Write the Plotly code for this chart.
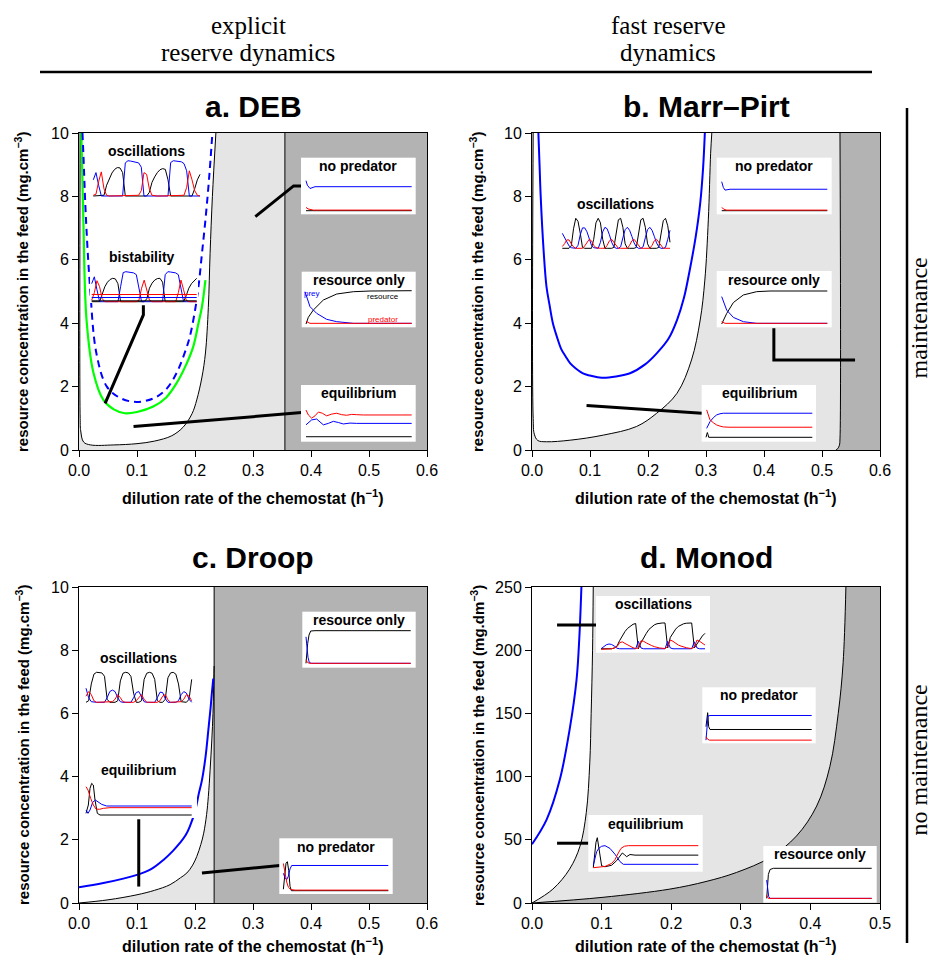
import plotly.graph_objects as go

# page geometry: the browser keeps its default 8px body margin, so the figure
# (927x949) starts at window pixel (8, 8); fixed 20px margins round the plot area.
OFF = 8
FIG_W, FIG_H = 927, 949
MARG = 20
PLOT_L, PLOT_T = OFF + MARG, OFF + MARG
PLOT_W, PLOT_H = FIG_W - 2 * MARG, FIG_H - 2 * MARG
DARK = "#b3b3b3"
LIGHT = "#e5e5e5"
BLUE = "#0000ff"
RED = "#ff0000"
GREEN = "#00ff00"
SANS = "Liberation Sans"
SERIF = "Liberation Serif"

# ======================= DATA =======================
# ---- panel a. DEB ----
A_EDGE = 0.355
A_BLACK_X = [0.002, 0.002, 0.003, 0.008, 0.02, 0.06, 0.1, 0.13, 0.16, 0.18, 0.195, 0.203, 0.212, 0.218, 0.223, 0.226, 0.23, 0.236]
A_BLACK_Y = [10, 1.0, 0.6, 0.25, 0.16, 0.16, 0.2, 0.28, 0.45, 0.73, 1.15, 1.58, 2.3, 3.06, 4.5, 6.2, 8.0, 10]
A_GREEN_X = [0.004, 0.0075, 0.013, 0.025, 0.042, 0.06, 0.079, 0.1, 0.128, 0.15, 0.168, 0.185, 0.197, 0.206, 0.212, 0.218]
A_GREEN_Y = [10, 7.26, 4.1, 2.43, 1.58, 1.28, 1.16, 1.2, 1.37, 1.65, 2.1, 2.7, 3.26, 4.0, 4.52, 5.36]
A_BLUE_X = [0.006, 0.0075, 0.012, 0.019, 0.03, 0.048, 0.07, 0.094, 0.115, 0.134, 0.152, 0.168, 0.181, 0.191, 0.2, 0.206, 0.212, 0.218, 0.224, 0.23]
A_BLUE_Y = [10, 9.36, 7.3, 5.15, 3.05, 2.0, 1.65, 1.52, 1.55, 1.68, 1.95, 2.42, 3.0, 3.57, 4.4, 5.15, 6.2, 7.26, 8.5, 10]
A_LEAD_NOPRED_X = [0.304, 0.370, 0.384]
A_LEAD_NOPRED_Y = [7.36, 8.33, 8.33]
A_LEAD_BIST_X = [0.111, 0.111, 0.045]
A_LEAD_BIST_Y = [4.57, 4.26, 1.47]
A_LEAD_EQ_X = [0.094, 0.384]
A_LEAD_EQ_Y = [0.74, 1.18]

# ---- panel b. Marr-Pirt ----
B_BLACK_X = [0.002, 0.002, 0.004, 0.01, 0.025, 0.066, 0.123, 0.18, 0.215, 0.25, 0.275, 0.29, 0.298, 0.304, 0.308, 0.31]
B_BLACK_Y = [10, 1.0, 0.5, 0.3, 0.26, 0.31, 0.47, 0.74, 1.16, 1.79, 2.84, 4.1, 5.36, 7.26, 9.36, 10]
B_RIGHT_X = [0.531, 0.531, 0.530, 0.527, 0.524]
B_RIGHT_Y = [10, 0.35, 0.15, 0.04, 0]
B_BLUE_X = [0.011, 0.013, 0.015, 0.02, 0.025, 0.03, 0.036, 0.043, 0.05, 0.058, 0.066, 0.075, 0.09, 0.1, 0.12, 0.145, 0.169, 0.195, 0.215, 0.235, 0.25, 0.262, 0.272, 0.282, 0.29, 0.295, 0.298]
B_BLUE_Y = [10, 9.0, 8.0, 6.3, 5.15, 4.6, 4.0, 3.57, 3.2, 2.95, 2.73, 2.58, 2.4, 2.35, 2.28, 2.32, 2.42, 2.7, 3.05, 3.5, 4.1, 4.8, 5.68, 6.7, 7.78, 8.9, 10]
B_LEAD_EQ_X = [0.094, 0.293]
B_LEAD_EQ_Y = [1.4, 1.16]
B_LEAD_RES_X = [0.417, 0.417, 0.557]
B_LEAD_RES_Y = [3.84, 2.84, 2.84]

# ---- panel c. Droop ----
C_EDGE = 0.233
C_BLACK_X = [0, 0.05, 0.1, 0.13, 0.157, 0.175, 0.186, 0.196, 0.203, 0.21, 0.215, 0.22, 0.223, 0.226, 0.229, 0.231, 0.232, 0.233]
C_BLACK_Y = [0, 0.1, 0.26, 0.4, 0.58, 0.8, 0.95, 1.2, 1.47, 1.85, 2.21, 2.8, 3.37, 4.2, 5.16, 6.0, 6.74, 7.5]
C_BLUE_X = [0, 0.042, 0.1, 0.125, 0.146, 0.162, 0.174, 0.184, 0.191, 0.2, 0.207, 0.212, 0.218, 0.223, 0.227, 0.229, 0.2315]
C_BLUE_Y = [0.5, 0.63, 0.89, 1.08, 1.37, 1.65, 1.9, 2.15, 2.42, 2.9, 3.5, 3.89, 4.6, 5.47, 6.2, 6.63, 7.1]
C_LEAD_EQ_X = [0.103, 0.103]
C_LEAD_EQ_Y = [2.65, 0.52]
C_LEAD_NOPRED_X = [0.212, 0.335, 0.346]
C_LEAD_NOPRED_Y = [0.95, 1.19, 1.19]

# ---- panel d. Monod ----
D_UPPER_X = [0, 0.03, 0.054, 0.069, 0.078, 0.083, 0.085, 0.087, 0.088]
D_UPPER_Y = [0, 11, 26.8, 45, 71.5, 110.9, 150, 200, 250]
D_LOWER_X = [0, 0.102, 0.198, 0.25, 0.294, 0.342, 0.38, 0.409, 0.428, 0.44, 0.447, 0.451]
D_LOWER_Y = [0, 4.5, 11, 17, 24.2, 36, 53, 76.7, 108, 150, 190, 250]
D_BLUE_X = [0, 0.021, 0.04, 0.054, 0.064, 0.068, 0.071]
D_BLUE_Y = [46.5, 66, 97.7, 137, 176.5, 210, 250]
D_LEAD_OSC_X = [0.036, 0.093]
D_LEAD_OSC_Y = [220, 220]
D_LEAD_EQ_X = [0.036, 0.081]
D_LEAD_EQ_Y = [47.3, 47.3]

# ---- ticks ----
X_TICKS_06 = [0, 0.1, 0.2, 0.3, 0.4, 0.5, 0.6]
X_TEXT_06 = ["0.0", "0.1", "0.2", "0.3", "0.4", "0.5", "0.6"]
X_TICKS_05 = [0, 0.1, 0.2, 0.3, 0.4, 0.5]
X_TEXT_05 = ["0.0", "0.1", "0.2", "0.3", "0.4", "0.5"]
Y_TICKS_10 = [0, 2, 4, 6, 8, 10]
Y_TICKS_250 = [0, 50, 100, 150, 200, 250]

# ---- inset time series (normalised values, arbitrary time units) ----
A_OSC_BLUE = [0.45, 0.65, 0.3, 0, 0, 0, 0, 0, 0, 0, 0, 0, 0.92, 0.98, 0.97, 0.96, 0.95, 0.92, 0.8, 0, 0, 0, 0, 0, 0, 0, 0, 0, 0, 0.93, 0.98, 0.97, 0.96, 0.95, 0.9, 0.7, 0, 0, 0, 0, 0]
A_OSC_RED = [0.02, 0.05, 0.4, 0.67, 0.2, 0.02, 0, 0, 0, 0, 0, 0, 0, 0, 0, 0, 0, 0.02, 0.15, 0.65, 0.6, 0.2, 0.02, 0, 0, 0, 0, 0, 0, 0, 0, 0, 0, 0, 0.02, 0.24, 0.7, 0.45, 0.15, 0.02, 0]
A_OSC_BLACK = [0, 0, 0, 0, 0.02, 0.3, 0.5, 0.64, 0.74, 0.79, 0.78, 0.65, 0, 0, 0, 0, 0, 0, 0, 0, 0, 0.1, 0.38, 0.53, 0.65, 0.73, 0.76, 0.74, 0.45, 0, 0, 0, 0, 0, 0, 0, 0, 0, 0.2, 0.45, 0.6]

A_BIST_BLUE = [0.6, 0.83, 0.4, 0, 0, 0, 0, 0, 0, 0, 0, 0.5, 0.97, 1.0, 0.99, 0.98, 0.96, 0.9, 0.4, 0, 0, 0, 0, 0, 0, 0, 0, 0, 0.9, 1.0, 0.99, 0.98, 0.96, 0.9, 0.5, 0, 0, 0, 0, 0, 0]
A_BIST_RED = [0.05, 0.3, 0.7, 0.5, 0.1, 0, 0, 0, 0, 0, 0, 0, 0, 0, 0, 0, 0, 0, 0.05, 0.45, 0.72, 0.4, 0.05, 0, 0, 0, 0, 0, 0, 0, 0, 0, 0, 0.3, 0.72, 0.4, 0.05, 0, 0, 0, 0]
A_BIST_BLACK = [0, 0, 0, 0, 0.25, 0.5, 0.65, 0.74, 0.78, 0.76, 0.6, 0, 0, 0, 0, 0, 0, 0, 0, 0, 0, 0.1, 0.45, 0.62, 0.72, 0.77, 0.78, 0.65, 0, 0, 0, 0, 0, 0, 0, 0, 0.2, 0.45, 0.6, 0.7, 0.78]
A_BIST_LEVEL_RED = 0.24
A_BIST_LEVEL_BLUE = 0.14
A_BIST_LEVEL_BLACK = 0.03

A_NOPRED_BLUE_T = [0, 4, 12, 27, 317]
A_NOPRED_BLUE_V = [1.0, 0.85, 0.74, 0.8, 0.8]
A_NOPRED_RED_T = [0, 6, 22, 317]
A_NOPRED_RED_V = [0.11, 0.06, 0.02, 0.02]
A_NOPRED_BLACK_T = [0, 317]
A_NOPRED_BLACK_V = [0, 0]

A_RES_BLACK_T = [3, 10, 25, 55, 95, 145, 195, 320]
A_RES_BLACK_V = [0, 0.2, 0.42, 0.72, 0.9, 0.97, 0.99, 1.0]
A_RES_BLUE_T = [0, 5, 15, 35, 65, 95, 145, 320]
A_RES_BLUE_V = [0.97, 0.8, 0.52, 0.32, 0.14, 0.07, 0.02, 0.02]
A_RES_RED_T = [3, 15, 320]
A_RES_RED_V = [0.08, 0.02, 0.02]

A_EQ_RED_T = [0, 7, 17, 27, 37, 49, 62, 77, 92, 107, 122, 137, 152, 172, 317]
A_EQ_RED_V = [0.94, 0.77, 0.66, 0.74, 0.87, 0.83, 0.74, 0.80, 0.83, 0.78, 0.76, 0.79, 0.78, 0.77, 0.77]
A_EQ_BLUE_T = [0, 7, 17, 32, 42, 52, 67, 82, 97, 112, 132, 152, 317]
A_EQ_BLUE_V = [0.43, 0.51, 0.6, 0.63, 0.54, 0.43, 0.48, 0.55, 0.51, 0.46, 0.49, 0.48, 0.48]
A_EQ_BLACK_T = [0, 317]
A_EQ_BLACK_V = [0.02, 0.02]

B_OSC_BLACK = [0, 0, 0, 0, 0.08, 0.65, 1.0, 0.9, 0.5, 0.03, 0, 0, 0, 0, 0.3, 0.85, 1.0, 0.85, 0.3, 0, 0, 0, 0, 0.03, 0.5, 0.95, 1.0, 0.7, 0.15, 0, 0, 0, 0, 0.03, 0.5, 0.95, 1.0, 0.7, 0.15, 0, 0, 0, 0, 0.03, 0.45, 0.92, 1.0, 0.75, 0.2]
B_OSC_BLUE = [0.5, 0.35, 0.2, 0.08, 0.02, 0, 0, 0.1, 0.45, 0.68, 0.68, 0.55, 0.3, 0.1, 0.02, 0, 0, 0.2, 0.55, 0.7, 0.65, 0.45, 0.2, 0.05, 0, 0, 0.05, 0.35, 0.62, 0.7, 0.6, 0.4, 0.18, 0.05, 0, 0, 0.05, 0.35, 0.62, 0.7, 0.6, 0.4, 0.18, 0.05, 0, 0, 0.03, 0.3, 0.6]
B_OSC_RED = [0.06, 0.15, 0.28, 0.28, 0.15, 0.05, 0, 0, 0, 0, 0.08, 0.2, 0.3, 0.25, 0.1, 0.02, 0, 0, 0, 0, 0.1, 0.25, 0.3, 0.2, 0.07, 0, 0, 0, 0, 0, 0.1, 0.25, 0.3, 0.2, 0.07, 0, 0, 0, 0, 0, 0.1, 0.25, 0.3, 0.2, 0.07, 0, 0, 0, 0]

B_NOPRED_BLUE_T = [0, 5, 10, 25, 317]
B_NOPRED_BLUE_V = [1.0, 0.8, 0.71, 0.74, 0.74]
B_NOPRED_RED_T = [0, 7, 15, 317]
B_NOPRED_RED_V = [0.11, 0.05, 0.02, 0.02]
B_NOPRED_BLACK_T = [0, 317]
B_NOPRED_BLACK_V = [0, 0]

B_RES_BLACK_T = [0, 15, 35, 65, 105, 145, 317]
B_RES_BLACK_V = [0, 0.32, 0.65, 0.88, 0.98, 1.0, 1.0]
B_RES_BLUE_T = [0, 15, 35, 65, 105, 317]
B_RES_BLUE_V = [0.83, 0.42, 0.2, 0.07, 0.02, 0.02]
B_RES_RED_T = [0, 10, 317]
B_RES_RED_V = [0.07, 0.02, 0.02]

B_EQ_BLUE_T = [2, 7, 12, 22, 32, 42, 52, 319]
B_EQ_BLUE_V = [0.32, 0.45, 0.56, 0.7, 0.8, 0.84, 0.86, 0.86]
B_EQ_RED_T = [2, 7, 12, 22, 32, 42, 52, 72, 319]
B_EQ_RED_V = [0.98, 0.8, 0.62, 0.52, 0.44, 0.4, 0.37, 0.36, 0.36]
B_EQ_BLACK_T = [0, 2, 4, 6, 8, 319]
B_EQ_BLACK_V = [0, 0.1, 0.17, 0.1, 0, 0]

C_OSC_BLACK = [0, 0.05, 0.6, 0.92, 0.98, 0.98, 0.96, 0.85, 0.1, 0, 0, 0, 0.05, 0.7, 0.95, 0.98, 0.96, 0.85, 0.3, 0, 0, 0.05, 0.75, 0.95, 0.98, 0.95, 0.75, 0.05, 0, 0, 0.1, 0.8, 0.96, 0.98, 0.92, 0.6, 0.02, 0, 0, 0.1, 0.75]
C_OSC_BLUE = [0.46, 0.15, 0.02, 0, 0, 0, 0, 0, 0.15, 0.35, 0.4, 0.35, 0.15, 0.02, 0, 0, 0, 0, 0.15, 0.32, 0.35, 0.2, 0.02, 0, 0, 0, 0, 0.15, 0.33, 0.32, 0.12, 0, 0, 0, 0, 0.05, 0.25, 0.35, 0.3, 0.1, 0]
C_OSC_RED = [0.2, 0.35, 0.25, 0.05, 0, 0, 0, 0, 0, 0, 0.02, 0.1, 0.25, 0.15, 0.02, 0, 0, 0, 0, 0.05, 0.15, 0.25, 0.1, 0, 0, 0, 0, 0, 0.05, 0.2, 0.25, 0.08, 0, 0, 0, 0, 0.02, 0.1, 0.25, 0.2, 0.05]

C_EQ_BLACK_T = [0, 7, 12, 17, 22, 27, 34, 42, 317]
C_EQ_BLACK_V = [0.05, 0.3, 0.8, 0.95, 0.9, 0.45, 0.05, 0, 0]
C_EQ_RED_T = [0, 6, 14, 22, 30, 40, 52, 72, 317]
C_EQ_RED_V = [0.85, 0.75, 0.5, 0.3, 0.18, 0.17, 0.2, 0.22, 0.22]
C_EQ_BLUE_T = [0, 6, 12, 20, 28, 37, 47, 62, 77, 317]
C_EQ_BLUE_V = [0.15, 0.05, 0.15, 0.38, 0.45, 0.4, 0.32, 0.27, 0.27, 0.27]

C_RES_BLACK_T = [0, 2, 5, 9, 14, 27, 314]
C_RES_BLACK_V = [0.02, 0.3, 0.6, 0.85, 0.97, 0.98, 0.98]
C_RES_BLUE_T = [0, 3, 6, 10, 17, 314]
C_RES_BLUE_V = [0.8, 0.5, 0.2, 0.04, 0.02, 0.02]
C_RES_RED_T = [0, 5, 12, 314]
C_RES_RED_V = [0.12, 0.04, 0.02, 0.02]

C_NOPRED_BLACK_T = [2, 6, 10, 14, 18, 22, 26, 317]
C_NOPRED_BLACK_V = [0.05, 0.55, 0.95, 1.0, 0.7, 0.15, 0, 0]
C_NOPRED_BLUE_T = [2, 7, 12, 17, 22, 27, 37, 317]
C_NOPRED_BLUE_V = [0.6, 0.45, 0.38, 0.5, 0.75, 0.87, 0.87, 0.87]
C_NOPRED_RED_T = [2, 7, 12, 17, 24, 37, 317]
C_NOPRED_RED_V = [0.94, 0.6, 0.3, 0.12, 0.04, 0.02, 0.02]

D_OSC_BLACK = [0.02, 0.02, 0.02, 0.02, 0.02, 0.05, 0.12, 0.33, 0.52, 0.67, 0.79, 0.88, 0.94, 0.97, 0.02, 0.25, 0.45, 0.6, 0.75, 0.85, 0.92, 0.96, 0.98, 0.99, 0.99, 0.05, 0.45, 0.62, 0.76, 0.86, 0.92, 0.96, 0.98, 0.99, 0.99, 0.05, 0.2, 0.38, 0.5, 0.6]
D_OSC_BLUE = [0.02, 0.1, 0.17, 0.2, 0.18, 0.12, 0.04, 0.02, 0.02, 0.02, 0.02, 0.02, 0.02, 0.02, 0.3, 0.05, 0.02, 0.02, 0.02, 0.02, 0.02, 0.02, 0.02, 0.02, 0.02, 0.3, 0.05, 0.02, 0.02, 0.02, 0.02, 0.02, 0.02, 0.02, 0.02, 0.28, 0.05, 0.02, 0.02, 0.02]
D_OSC_RED = [0, 0, 0, 0, 0.02, 0.05, 0.1, 0.25, 0.28, 0.22, 0.16, 0.1, 0.06, 0.03, 0.05, 0.32, 0.3, 0.24, 0.18, 0.14, 0.1, 0.07, 0.05, 0.04, 0.03, 0.1, 0.35, 0.3, 0.22, 0.16, 0.12, 0.08, 0.06, 0.04, 0.03, 0.08, 0.35, 0.3, 0.22, 0.16]

D_NOPRED_BLUE_T = [0, 3, 6, 12, 317]
D_NOPRED_BLUE_V = [0.02, 0.6, 0.88, 0.9, 0.9]
D_NOPRED_BLACK_T = [0, 3, 5, 8, 12, 317]
D_NOPRED_BLACK_V = [0.5, 0.95, 1.0, 0.5, 0.4, 0.4]
D_NOPRED_RED_T = [0, 4, 10, 317]
D_NOPRED_RED_V = [0.14, 0.06, 0.02, 0.02]

D_EQ_BLACK_T = [0, 4, 8, 12, 16, 20, 25, 35, 55, 70, 80, 87, 93, 100, 110, 125, 315]
D_EQ_BLACK_V = [0.02, 0.4, 0.85, 1.0, 0.7, 0.3, 0.08, 0.05, 0.1, 0.25, 0.4, 0.5, 0.45, 0.38, 0.45, 0.43, 0.43]
D_EQ_BLUE_T = [0, 5, 10, 17, 25, 35, 50, 65, 80, 90, 105, 315]
D_EQ_BLUE_V = [0.1, 0.35, 0.54, 0.66, 0.72, 0.74, 0.65, 0.46, 0.22, 0.13, 0.13, 0.13]
D_EQ_RED_T = [0, 15, 35, 55, 65, 75, 83, 93, 105, 315]
D_EQ_RED_V = [0.02, 0.03, 0.06, 0.16, 0.28, 0.5, 0.65, 0.72, 0.74, 0.74]

D_RES_BLACK_T = [0, 2, 5, 10, 20, 315]
D_RES_BLACK_V = [0.02, 0.5, 0.8, 0.96, 1.0, 1.0]
D_RES_BLUE_T = [0, 2, 6, 10, 315]
D_RES_BLUE_V = [0.62, 0.4, 0.08, 0.02, 0.02]
D_RES_RED_T = [0, 5, 315]
D_RES_RED_V = [0.12, 0.02, 0.02]

# ======================= FIGURE =======================
fig = go.Figure()
layout = {}
annotations = []
shapes = []


def fx(px):
    return (px - PLOT_L) / PLOT_W


def fy(py):
    return 1 - (py - PLOT_T) / PLOT_H


def ax_names(i):
    return ("x" if i == 1 else f"x{i}", "y" if i == 1 else f"y{i}",
            "xaxis" if i == 1 else f"xaxis{i}", "yaxis" if i == 1 else f"yaxis{i}")


def line(i, x, y, color="black", width=1.0, dash=None, fill=None, fillcolor=None, shape="linear"):
    xa, ya, _, _ = ax_names(i)
    ln = dict(color=color, width=width, dash=dash, shape=shape) if width > 0 else dict(width=0, color=color, shape=shape)
    fig.add_trace(go.Scatter(
        x=x, y=y, xaxis=xa, yaxis=ya, mode="lines", line=ln,
        fill=fill, fillcolor=fillcolor, hoverinfo="skip", showlegend=False))


def text(px, py, s, size, family=SANS, color="black", angle=0, xanchor="center"):
    annotations.append(dict(x=fx(px), y=fy(py), xref="paper", yref="paper",
                            text=s, showarrow=False, textangle=angle, xanchor=xanchor,
                            yanchor="middle", font=dict(family=family, size=size, color=color)))


# main panels: (index, rect in window px (l,t,r,b), xrange, yrange, xticks, xtext, yticks)
PANELS = [
    (1, (79, 133, 427, 450), [0, 0.6], [0, 10], X_TICKS_06, X_TEXT_06, Y_TICKS_10),
    (2, (532, 133, 880, 450), [0, 0.6], [0, 10], X_TICKS_06, X_TEXT_06, Y_TICKS_10),
    (3, (79, 587, 427, 903), [0, 0.6], [0, 10], X_TICKS_06, X_TEXT_06, Y_TICKS_10),
    (4, (532, 587, 880, 903), [0, 0.5], [0, 250], X_TICKS_05, X_TEXT_05, Y_TICKS_250),
]
for i, (l, t, r, b), xr, yr, xt, xtt, yt in PANELS:
    xa, ya, xk, yk = ax_names(i)
    common = dict(showgrid=False, zeroline=False, showline=True, mirror=True,
                  linecolor="black", linewidth=1, ticks="outside", ticklen=6,
                  tickwidth=1, tickcolor="black", fixedrange=True, automargin=False,
                  tickfont=dict(family=SANS, size=16, color="black"))
    layout[xk] = dict(domain=[fx(l), fx(r)], range=xr, anchor=ya,
                      tickvals=xt, ticktext=xtt, **common)
    layout[yk] = dict(domain=[fy(b), fy(t)], range=yr, anchor=xa,
                      tickvals=yt, ticktext=[str(v) for v in yt], **common)

# ---- panel a ----
line(1, [A_EDGE, 0.6, 0.6, A_EDGE], [0, 0, 10, 10], width=0, fill="toself", fillcolor=DARK)
line(1, [0, A_EDGE, A_EDGE, 0], [0, 0, 10, 10], width=0, fill="toself", fillcolor=LIGHT)
line(1, A_BLACK_X, A_BLACK_Y, width=0, fill="toself", fillcolor="white", shape="spline")
line(1, A_BLACK_X, A_BLACK_Y, "black", 1, shape="spline")
line(1, [A_EDGE, A_EDGE], [0, 10], "black", 1)
line(1, A_GREEN_X, A_GREEN_Y, GREEN, 2.2, shape="spline")
line(1, A_BLUE_X, A_BLUE_Y, BLUE, 2, dash="7px,5px", shape="spline")
line(1, A_LEAD_NOPRED_X, A_LEAD_NOPRED_Y, "black", 3)
line(1, A_LEAD_BIST_X, A_LEAD_BIST_Y, "black", 3)
line(1, A_LEAD_EQ_X, A_LEAD_EQ_Y, "black", 3)

# ---- panel b ----
line(2, [0, 0.6, 0.6, 0], [0, 0, 10, 10], width=0, fill="toself", fillcolor=DARK)
line(2, B_RIGHT_X, B_RIGHT_Y, width=0, fill="tozerox", fillcolor=LIGHT, shape="spline")
line(2, B_BLACK_X, B_BLACK_Y, width=0, fill="toself", fillcolor="white", shape="spline")
line(2, B_BLACK_X, B_BLACK_Y, "black", 1, shape="spline")
line(2, B_RIGHT_X, B_RIGHT_Y, "black", 1, shape="spline")
line(2, B_BLUE_X, B_BLUE_Y, BLUE, 2, shape="spline")
line(2, B_LEAD_EQ_X, B_LEAD_EQ_Y, "black", 3)
line(2, B_LEAD_RES_X, B_LEAD_RES_Y, "black", 3)

# ---- panel c ----
line(3, [C_EDGE, 0.6, 0.6, C_EDGE], [0, 0, 10, 10], width=0, fill="toself", fillcolor=DARK)
line(3, C_BLACK_X, C_BLACK_Y, width=0, fill="tozeroy", fillcolor=LIGHT, shape="spline")
line(3, C_BLACK_X, C_BLACK_Y, "black", 1, shape="spline")
line(3, [C_EDGE, C_EDGE], [0, 10], "black", 1)
line(3, C_BLUE_X, C_BLUE_Y, BLUE, 2, shape="spline")
line(3, C_LEAD_EQ_X, C_LEAD_EQ_Y, "black", 3)
line(3, C_LEAD_NOPRED_X, C_LEAD_NOPRED_Y, "black", 3)

# ---- panel d ----
line(4, [0, 0.5, 0.5, 0], [0, 0, 250, 250], width=0, fill="toself", fillcolor=DARK)
line(4, D_LOWER_X, D_LOWER_Y, width=0, fill="tozerox", fillcolor=LIGHT, shape="spline")
line(4, D_UPPER_X, D_UPPER_Y, width=0, fill="tozerox", fillcolor="white", shape="spline")
line(4, D_UPPER_X, D_UPPER_Y, "black", 1, shape="spline")
line(4, D_LOWER_X, D_LOWER_Y, "black", 1, shape="spline")
line(4, D_BLUE_X, D_BLUE_Y, BLUE, 2, shape="spline")
line(4, D_LEAD_OSC_X, D_LEAD_OSC_Y, "black", 3)
line(4, D_LEAD_EQ_X, D_LEAD_EQ_Y, "black", 3)


def idx(v):
    return list(range(len(v)))


# ---- insets: (box px l,t,r,b), (series rect px l,t,r,b), tmax, title, title centre px, series
INSETS = [
    ((90, 158, 203, 199), (93.3, 160, 200, 196), 40, "oscillations", (146.7, 151),
     [(idx(A_OSC_BLACK), A_OSC_BLACK, "black"), (idx(A_OSC_BLUE), A_OSC_BLUE, BLUE), (idx(A_OSC_RED), A_OSC_RED, RED)]),
    ((90, 268, 198, 303), (91.7, 271.7, 196.7, 301.7), 40, "bistability", (141.7, 256.7),
     [(idx(A_BIST_BLACK), A_BIST_BLACK, "black"), (idx(A_BIST_BLUE), A_BIST_BLUE, BLUE), (idx(A_BIST_RED), A_BIST_RED, RED),
      ([0, 40], [A_BIST_LEVEL_RED] * 2, RED), ([0, 40], [A_BIST_LEVEL_BLUE] * 2, BLUE), ([0, 40], [A_BIST_LEVEL_BLACK] * 2, "black")]),
    ((301, 157.7, 415.7, 214.3), (306, 180.7, 411.7, 210.7), 317, "no predator", (358, 166),
     [(A_NOPRED_BLACK_T, A_NOPRED_BLACK_V, "black"), (A_NOPRED_BLUE_T, A_NOPRED_BLUE_V, BLUE), (A_NOPRED_RED_T, A_NOPRED_RED_V, RED)]),
    ((301.7, 271.7, 415.7, 327.3), (305, 290.7, 411.7, 324), 320, "resource only", (358.7, 280),
     [(A_RES_BLACK_T, A_RES_BLACK_V, "black"), (A_RES_BLUE_T, A_RES_BLUE_V, BLUE), (A_RES_RED_T, A_RES_RED_V, RED)]),
    ((301, 385, 415.7, 441.7), (306, 408.3, 411.7, 437.3), 317, "equilibrium", (358, 393.3),
     [(A_EQ_BLACK_T, A_EQ_BLACK_V, "black"), (A_EQ_BLUE_T, A_EQ_BLUE_V, BLUE), (A_EQ_RED_T, A_EQ_RED_V, RED)]),
    ((560, 216, 672, 251), (562.3, 218.3, 670, 248.3), 48, "oscillations", (615, 204.3),
     [(idx(B_OSC_BLACK), B_OSC_BLACK, "black"), (idx(B_OSC_BLUE), B_OSC_BLUE, BLUE), (idx(B_OSC_RED), B_OSC_RED, RED)]),
    ((716.7, 157.7, 831.7, 214.3), (721.7, 181.7, 827.3, 210.7), 317, "no predator", (774, 166),
     [(B_NOPRED_BLACK_T, B_NOPRED_BLACK_V, "black"), (B_NOPRED_BLUE_T, B_NOPRED_BLUE_V, BLUE), (B_NOPRED_RED_T, B_NOPRED_RED_V, RED)]),
    ((716.7, 271, 831.7, 327.3), (721.7, 291, 827.3, 324), 317, "resource only", (774, 280),
     [(B_RES_BLACK_T, B_RES_BLACK_V, "black"), (B_RES_BLUE_T, B_RES_BLUE_V, BLUE), (B_RES_RED_T, B_RES_RED_V, RED)]),
    ((701.7, 385, 816, 441.7), (706, 409.3, 812.3, 437.3), 319, "equilibrium", (759, 393.3),
     [(B_EQ_BLACK_T, B_EQ_BLACK_V, "black"), (B_EQ_BLUE_T, B_EQ_BLUE_V, BLUE), (B_EQ_RED_T, B_EQ_RED_V, RED)]),
    ((83, 647, 197, 706), (86, 671.7, 191.7, 702.3), 40, "oscillations", (138.3, 658.3),
     [(idx(C_OSC_BLACK), C_OSC_BLACK, "black"), (idx(C_OSC_BLUE), C_OSC_BLUE, BLUE), (idx(C_OSC_RED), C_OSC_RED, RED)]),
    ((83, 762, 197, 818), (86, 781.7, 191.7, 815), 317, "equilibrium", (138.3, 770),
     [(C_EQ_BLACK_T, C_EQ_BLACK_V, "black"), (C_EQ_BLUE_T, C_EQ_BLUE_V, BLUE), (C_EQ_RED_T, C_EQ_RED_V, RED)]),
    ((302.3, 611.7, 415.7, 667.7), (306, 630, 410.7, 664), 314, "resource only", (359, 620),
     [(C_RES_BLACK_T, C_RES_BLACK_V, "black"), (C_RES_BLUE_T, C_RES_BLUE_V, BLUE), (C_RES_RED_T, C_RES_RED_V, RED)]),
    ((279.3, 838.3, 392.7, 894), (282.7, 861.7, 388.3, 890.7), 317, "no predator", (336, 846.7),
     [(C_NOPRED_BLACK_T, C_NOPRED_BLACK_V, "black"), (C_NOPRED_BLUE_T, C_NOPRED_BLUE_V, BLUE), (C_NOPRED_RED_T, C_NOPRED_RED_V, RED)]),
    ((596, 596, 710, 652.7), (601, 622.7, 705, 649.3), 39, "oscillations", (653, 604.3),
     [(idx(D_OSC_BLACK), D_OSC_BLACK, "black"), (idx(D_OSC_BLUE), D_OSC_BLUE, BLUE), (idx(D_OSC_RED), D_OSC_RED, RED)]),
    ((702.3, 687.3, 815.7, 743.3), (706, 712.7, 811.7, 740.7), 317, "no predator", (759, 695),
     [(D_NOPRED_BLACK_T, D_NOPRED_BLACK_V, "black"), (D_NOPRED_BLUE_T, D_NOPRED_BLUE_V, BLUE), (D_NOPRED_RED_T, D_NOPRED_RED_V, RED)]),
    ((588.3, 815, 702.7, 871.7), (593.3, 837.7, 698.3, 868.3), 315, "equilibrium", (645.5, 824),
     [(D_EQ_BLACK_T, D_EQ_BLACK_V, "black"), (D_EQ_BLUE_T, D_EQ_BLUE_V, BLUE), (D_EQ_RED_T, D_EQ_RED_V, RED)]),
    ((763.3, 846, 876.7, 902.7), (766.7, 868.3, 871.7, 899), 315, "resource only", (820, 854),
     [(D_RES_BLACK_T, D_RES_BLACK_V, "black"), (D_RES_BLUE_T, D_RES_BLUE_V, BLUE), (D_RES_RED_T, D_RES_RED_V, RED)]),
]

for k, (box, ts, tmax, title, tpos, series) in enumerate(INSETS):
    i = 5 + k
    xa, ya, xk, yk = ax_names(i)
    bx0, by0, bx1, by1 = box
    tx0, ty0, tx1, ty1 = ts
    sx = tmax / (tx1 - tx0)
    sy = 1.0 / (ty1 - ty0)
    layout[xk] = dict(domain=[fx(bx0), fx(bx1)], range=[(bx0 - tx0) * sx, (bx1 - tx0) * sx],
                      anchor=ya, visible=False, fixedrange=True, automargin=False)
    layout[yk] = dict(domain=[fy(by1), fy(by0)], range=[(ty1 - by1) * sy, (ty1 - by0) * sy],
                      anchor=xa, visible=False, fixedrange=True, automargin=False)
    for tt, vv, col in series:
        line(i, tt, vv, col, 1.0)
    text(tpos[0], tpos[1], "<b>" + title + "</b>", 14)

# tiny legend words in the DEB "resource only" inset
text(311.7, 293.5, "prey", 8, color=BLUE)
text(383.3, 296, "resource", 8)
text(383.3, 319, "predator", 8, color=RED)

# panel titles
text(253, 106, "<b>a. DEB</b>", 30)
text(706, 106, "<b>b. Marr\u2013Pirt</b>", 30)
text(253, 557, "<b>c. Droop</b>", 30)
text(706, 557, "<b>d. Monod</b>", 30)

# axis titles
XLAB = "<b>dilution rate of the chemostat (h<sup>\u22121</sup>)</b>"
for cx, cy in [(253, 497), (706, 497), (253, 945), (706, 945)]:
    text(cx, cy, XLAB, 16)
YLAB_CM = "<b>resource concentration in the feed (mg.cm<sup>\u22123</sup>)</b>"
YLAB_DM = "<b>resource concentration in the feed (mg.dm<sup>\u22123</sup>)</b>"
text(22, 292, YLAB_CM, 15, angle=-90)
text(477, 292, YLAB_CM, 15, angle=-90)
text(22, 745, YLAB_CM, 15, angle=-90)
text(477, 745, YLAB_DM, 15, angle=-90)

# column headers and row labels
text(248, 25, "explicit", 25, family=SERIF)
text(248, 53, "reserve dynamics", 25, family=SERIF)
text(668, 25, "fast reserve", 25, family=SERIF)
text(668, 53, "dynamics", 25, family=SERIF)
text(918.5, 318, "maintenance", 24, family=SERIF, angle=-90)
text(918.5, 760, "no maintenance", 24, family=SERIF, angle=-90)

shapes.append(dict(type="line", xref="paper", yref="paper", x0=fx(40), x1=fx(872),
                   y0=fy(72), y1=fy(72), line=dict(color="black", width=2.5)))
shapes.append(dict(type="line", xref="paper", yref="paper", x0=fx(907), x1=fx(907),
                   y0=fy(108), y1=fy(943), line=dict(color="black", width=2.5)))

fig.update_layout(
    width=FIG_W, height=FIG_H, autosize=False,
    margin=dict(l=MARG, r=MARG, t=MARG, b=MARG, pad=0, autoexpand=False),
    paper_bgcolor="white", plot_bgcolor="white",
    showlegend=False, annotations=annotations, shapes=shapes,
    font=dict(family=SANS, color="black"),
    **layout,
)

fig.write_html("out.html", config={"displayModeBar": False})
